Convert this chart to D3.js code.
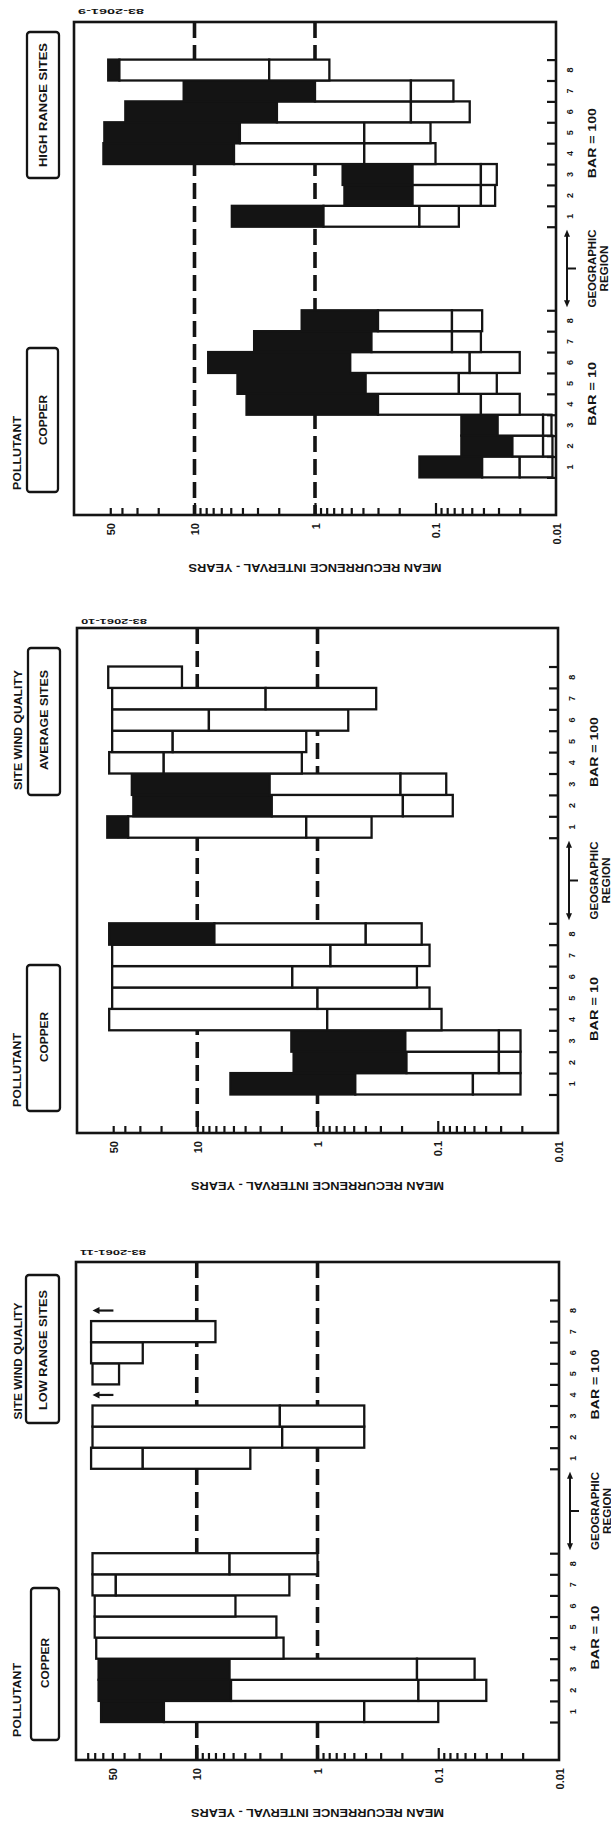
<!DOCTYPE html>
<html><head><meta charset="utf-8">
<script src="https://cdn.jsdelivr.net/npm/d3@7"></script>
<style>
body{margin:0;background:#fff}
svg{display:block}
text{font-family:'Liberation Sans Narrow','Liberation Sans','DejaVu Sans Condensed',sans-serif;font-weight:bold;fill:#141414}
</style>
</head><body><svg id="c" width="611" height="1832"></svg>
<script>
// ---------------- DATA ----------------
const regions = [1, 2, 3, 4, 5, 6, 7, 8];
const groupLabels = ["BAR = 10", "BAR = 100"];
const pollutantLabel = "POLLUTANT";
const pollutantName = "COPPER";
const siteLabel = "SITE WIND QUALITY";
const siteClasses = ["HIGH RANGE SITES", "AVERAGE SITES", "LOW RANGE SITES"];
const showSiteLabel = [false, true, true];
const figureIds = ["83-2061-9", "83-2061-10", "83-2061-11"];
const axisTitle = "MEAN RECURRENCE INTERVAL - YEARS";
const regionTitle = ["GEOGRAPHIC", "REGION"];
const mriTickValues = [50, 10, 1, 0.1, 0.01];
const mriTickLabels = ["50", "10", "1", "0.1", "0.01"];
const mriMajorTicks = [10, 1, 0.1];
const mriMinorTicks = [50, 40, 30, 20, 9, 8, 7, 6, 5, 4, 3, 2, 0.9, 0.8, 0.7, 0.6, 0.5, 0.4, 0.3, 0.2, 0.09, 0.08, 0.07, 0.06, 0.05, 0.04, 0.03, 0.02];
const mriExtraTicksLow = [80, 70, 60];
const referenceLines = [10, 1];

// Each bar: segment boundaries in years (region 1..8); first segment is dark when flag = 1
const highBar10 = [
  [0.136, 0.041, 0.020, 0.0107],
  [0.061, 0.023, 0.0128, 0.0107],
  [0.061, 0.0305, 0.0128, 0.0109],
  [3.7, 0.30, 0.042, 0.020],
  [4.4, 0.38, 0.064, 0.031],
  [7.7, 0.51, 0.052, 0.020],
  [3.2, 0.34, 0.073, 0.042],
  [1.29, 0.30, 0.073, 0.041]
];
const highBar10Dark = [1, 1, 1, 1, 1, 1, 1, 1];
const highBar100 = [
  [4.9, 0.85, 0.136, 0.064],
  [0.57, 0.155, 0.042, 0.032],
  [0.59, 0.155, 0.042, 0.031],
  [57, 4.7, 0.39, 0.10],
  [56, 4.2, 0.39, 0.11],
  [37.5, 2.07, 0.16, 0.052],
  [12.3, 1.0, 0.16, 0.071],
  [52, 42, 2.4, 0.76]
];
const highBar100Dark = [1, 1, 1, 1, 1, 1, 1, 1];

const avgBar10 = [
  [5.3, 0.485, 0.051, 0.0205],
  [1.58, 0.182, 0.031, 0.0205],
  [1.65, 0.186, 0.031, 0.0205],
  [54, 0.83, 0.093],
  [51, 1.0, 0.117],
  [51, 1.62, 0.149],
  [51, 0.78, 0.117],
  [54, 7.2, 0.397, 0.136]
];
const avgBar10Dark = [1, 1, 1, 0, 0, 0, 0, 1];
const avgBar100 = [
  [56, 37.5, 1.24, 0.355],
  [34, 2.4, 0.195, 0.075],
  [35, 2.5, 0.204, 0.085],
  [54, 19, 1.35],
  [51, 16, 1.24],
  [51, 8.0, 0.555],
  [51, 2.7, 0.325],
  [55, 13.4]
];
const avgBar100Dark = [1, 1, 1, 0, 0, 0, 0, 0];

const lowBar10 = [
  [62, 18.7, 0.41, 0.1],
  [65, 5.2, 0.146, 0.04],
  [65, 5.35, 0.15, 0.05],
  [68, 1.91],
  [70, 2.19],
  [70, 4.78],
  [73, 46.8, 1.71],
  [73, 5.35, 1.0]
];
const lowBar10Dark = [1, 1, 1, 0, 0, 0, 0, 0];
const lowBar100 = [
  [75, 28, 3.6],
  [73, 1.96, 0.41],
  [73, 2.05, 0.41],
  null,
  [73, 44],
  [75, 28],
  [75, 7.0],
  null
];
const lowBar100Dark = [0, 0, 0, 0, 0, 0, 0, 0];
const lowBar100ArrowRegions = [4, 8];
const lowArrowSpan = [49, 73];

// ---------------- LAYOUT ----------------
const panels = [
  { bars: [highBar10, highBar100], dark: [highBar10Dark, highBar100Dark], arrows: [],
    left: 74, right: 556, top: 22, bottom: 515, numY: 11,
    siteBox: [27, 59, 32, 178], siteC: 105, siteLen: 124, siteLabC: 0, siteLabLen: 0,
    polBox: [27, 58, 348, 492], polC: 453, copC: 420, extra: [] },
  { bars: [avgBar10, avgBar100], dark: [avgBar10Dark, avgBar100Dark], arrows: [],
    left: 77, right: 558, top: 628, bottom: 1133, numY: 621,
    siteBox: [28, 60, 648, 795], siteC: 720, siteLen: 100, siteLabC: 730, siteLabLen: 120,
    polBox: [27, 60, 965, 1111], polC: 1070, copC: 1037, extra: [] },
  { bars: [lowBar10, lowBar100], dark: [lowBar10Dark, lowBar100Dark], arrows: lowBar100ArrowRegions,
    left: 76, right: 559, top: 1262, bottom: 1760, numY: 1252,
    siteBox: [26, 59, 1275, 1423], siteC: 1350, siteLen: 120, siteLabC: 1361, siteLabLen: 117,
    polBox: [31, 59, 1588, 1740], polC: 1700, copC: 1663, extra: mriExtraTicksLow }
];

const svg = d3.select('#c');
svg.append('rect').attr('width', 611).attr('height', 1832).attr('fill', '#fff');
const INK = '#141414';

function txt(g, x, y, s, size, rot, len, anchor) {
  const t = g.append('text')
    .attr('transform', `translate(${x},${y}) rotate(${rot})`)
    .attr('text-anchor', anchor || 'middle')
    .attr('dominant-baseline', 'central')
    .attr('font-size', size)
    .text(s);
  if (len) t.attr('textLength', len).attr('lengthAdjust', 'spacingAndGlyphs');
  return t;
}

panels.forEach((P, pi) => {
  const g = svg.append('g');
  const xs = d3.scaleLog().domain([100, 0.01]).range([P.left, P.right]);
  const ys = d3.scaleLinear().domain([-1.8, 21.8]).range([P.bottom, P.top]);

  // reference dashed lines
  referenceLines.forEach(v => {
    g.append('line').attr('x1', xs(v)).attr('x2', xs(v)).attr('y1', P.top).attr('y2', P.bottom)
      .attr('stroke', INK).attr('stroke-width', 3.6).attr('stroke-dasharray', '16,7');
  });

  // bars
  [0, 1].forEach(gi => {
    const off = gi * 12;
    P.bars[gi].forEach((b, i) => {
      if (!b) return;
      const s0 = off + i;
      for (let j = 0; j < b.length - 1; j++) {
        const x0 = xs(b[j]), x1 = xs(b[j + 1]);
        g.append('rect').attr('x', x0).attr('y', ys(s0 + 1)).attr('width', x1 - x0)
          .attr('height', ys(s0) - ys(s0 + 1))
          .attr('fill', (j < P.dark[gi][i]) ? INK : '#fff')
          .attr('stroke', INK).attr('stroke-width', 2.3);
      }
    });
  });

  // arrows ("greater than" markers)
  P.arrows.forEach(r => {
    const yc = ys(12 + r - 0.5);
    const xa = xs(lowArrowSpan[1]), xb = xs(lowArrowSpan[0]);
    g.append('line').attr('x1', xa + 4).attr('x2', xb).attr('y1', yc).attr('y2', yc)
      .attr('stroke', INK).attr('stroke-width', 2.2);
    g.append('path').attr('d', `M${xa},${yc} L${xa + 7},${yc - 3.5} L${xa + 7},${yc + 3.5} Z`).attr('fill', INK);
  });

  // frame
  g.append('rect').attr('x', P.left).attr('y', P.top).attr('width', P.right - P.left)
    .attr('height', P.bottom - P.top).attr('fill', 'none').attr('stroke', INK).attr('stroke-width', 2.6);

  // bottom axis ticks (inward)
  const axMinor = g.append('g').attr('transform', `translate(0,${P.bottom})`)
    .call(d3.axisBottom(xs).tickValues(mriMinorTicks.concat(P.extra)).tickSize(-7).tickFormat(''));
  const axMajor = g.append('g').attr('transform', `translate(0,${P.bottom})`)
    .call(d3.axisBottom(xs).tickValues(mriMajorTicks).tickSize(-12).tickFormat(''));
  const axLab = g.append('g').attr('transform', `translate(0,${P.bottom})`)
    .call(d3.axisBottom(xs).tickValues(mriTickValues).tickSize(0)
      .tickFormat(d => mriTickLabels[mriTickValues.indexOf(d)]));
  [axMinor, axMajor, axLab].forEach(a => {
    a.select('.domain').remove();
    a.attr('font-family', null).attr('font-size', null);
    a.selectAll('line').attr('stroke', INK).attr('stroke-width', 2.2);
  });
  axLab.selectAll('text').attr('y', null).attr('dy', null).attr('fill', INK)
    .attr('transform', 'translate(0,8) rotate(-90)').attr('text-anchor', 'end')
    .attr('dominant-baseline', 'central').attr('font-size', 11);

  // axis title (upside down)
  txt(g, (P.left + P.right) / 2, P.bottom + 53, axisTitle, 11, 180, 253);

  // right region axis
  const bounds = d3.range(0, 9).concat(d3.range(12, 21));
  const axR = g.append('g').attr('transform', `translate(${P.right},0)`)
    .call(d3.axisRight(ys).tickValues(bounds).tickSize(-9).tickFormat(''));
  axR.select('.domain').remove();
  axR.selectAll('line').attr('stroke', INK).attr('stroke-width', 2.2);
  [0, 1].forEach(gi => {
    regions.forEach((r, i) => {
      txt(g, P.right + 14, ys(gi * 12 + i + 0.5), String(r), 9, -90);
    });
    txt(g, P.right + 36, ys(gi * 12 + 4), groupLabels[gi], 11, -90, gi ? 70 : 64);
  });
  // geographic region bracket
  const yTop = ys(12) + 3, yBot = ys(8) - 3, xl = P.right + 11;
  g.append('line').attr('x1', xl).attr('x2', xl).attr('y1', yTop + 4).attr('y2', yBot - 4)
    .attr('stroke', INK).attr('stroke-width', 2);
  g.append('path').attr('d', `M${xl},${yTop} L${xl - 3},${yTop + 7} L${xl + 3},${yTop + 7} Z`).attr('fill', INK);
  g.append('path').attr('d', `M${xl},${yBot} L${xl - 3},${yBot - 7} L${xl + 3},${yBot - 7} Z`).attr('fill', INK);
  g.append('line').attr('x1', xl).attr('x2', xl + 9).attr('y1', ys(10)).attr('y2', ys(10))
    .attr('stroke', INK).attr('stroke-width', 2);
  txt(g, P.right + 36, ys(10), regionTitle[0], 10, -90, 78);
  txt(g, P.right + 48, ys(10), regionTitle[1], 10, -90, 46);

  // figure id (upside down)
  txt(g, P.left + 37, P.numY, figureIds[pi], 8, 180, 66);

  // site quality box
  const sb = P.siteBox;
  g.append('rect').attr('x', sb[0]).attr('y', sb[2]).attr('width', sb[1] - sb[0]).attr('height', sb[3] - sb[2])
    .attr('rx', 3).attr('fill', 'none').attr('stroke', INK).attr('stroke-width', 2.3);
  txt(g, (sb[0] + sb[1]) / 2, P.siteC, siteClasses[pi], 11, -90, P.siteLen);
  if (showSiteLabel[pi]) txt(g, 18, P.siteLabC, siteLabel, 10, -90, P.siteLabLen);

  // pollutant box
  const pb = P.polBox;
  g.append('rect').attr('x', pb[0]).attr('y', pb[2]).attr('width', pb[1] - pb[0]).attr('height', pb[3] - pb[2])
    .attr('rx', 3).attr('fill', 'none').attr('stroke', INK).attr('stroke-width', 2.3);
  txt(g, (pb[0] + pb[1]) / 2, P.copC, pollutantName, 11, -90, 50);
  txt(g, 17, P.polC, pollutantLabel, 10, -90, 74);
});
</script>
</body></html>
